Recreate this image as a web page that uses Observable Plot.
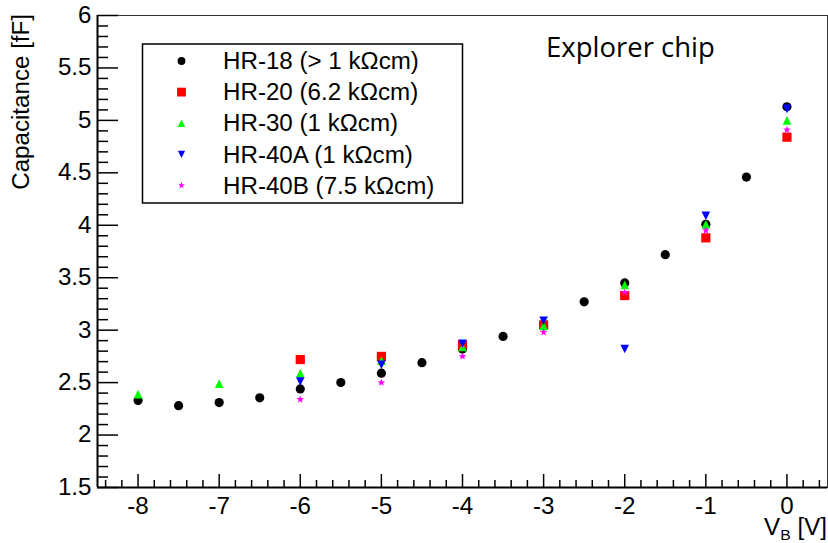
<!DOCTYPE html>
<html><head><meta charset="utf-8">
<script src="https://cdn.jsdelivr.net/npm/d3@7"></script>
<script src="https://cdn.jsdelivr.net/npm/@observablehq/plot@0.6"></script>
<style>
html,body{margin:0;padding:0;background:#fff;}
#chart{position:relative;width:828px;height:543px;overflow:hidden;}
</style></head><body><div id="chart"></div>
<script>
// ---- data ----
const hr18V = [-8,-7.5,-7,-6.5,-6,-5.5,-5,-4.5,-4,-3.5,-3,-2.5,-2,-1.5,-1,-0.5,0];
const hr18  = [2.33,2.28,2.31,2.355,2.44,2.50,2.59,2.69,2.82,2.94,3.04,3.27,3.45,3.72,4.01,4.46,5.13];
const hr20V = [-6,-5,-4,-3,-2,-1,0];
const hr20  = [2.72,2.75,2.86,3.05,3.33,3.88,4.84];
const hr30V = [-8,-7,-6,-5,-4,-3,-2,-1,0];
const hr30  = [2.39,2.49,2.59,2.71,2.84,3.04,3.43,4.01,5.00];
const hr40aV = [-6,-5,-4,-3,-2,-1,0];
const hr40a  = [2.51,2.67,2.87,3.09,2.82,4.09,5.11];
const hr40bV = [-6,-5,-4,-3,-2,-1,0];
const hr40b  = [2.34,2.50,2.75,2.98,3.36,3.95,4.91];

const seriesNames = ["HR-18 (> 1 kΩcm)","HR-20 (6.2 kΩcm)","HR-30 (1 kΩcm)","HR-40A (1 kΩcm)","HR-40B (7.5 kΩcm)"];
const seriesColors = ["#000000","#ff0000","#00ff00","#0000ff","#ff00ff"];
const xTicks = [-8,-7,-6,-5,-4,-3,-2,-1,0];
const yTicks = [1.5,2,2.5,3,3.5,4,4.5,5,5.5,6];
const xDomain = [-8.5, 0.5];
const yDomain = [1.5, 6];
const xTitle = ["V", "B", " [V]"];
const yTitle = "Capacitance [fF]";
const annotation = "Explorer chip";

// ---- layout ----
const W = 828, H = 543;
const mL = 97, mT = 15, mR = 1, mB = 56;
const plotW = W - mL - mR, plotH = H - mT - mB;
const FONT = "'Liberation Sans', Arial, Helvetica, sans-serif";
const FS = 23, STRETCH = 1.05;

// ---- ROOT-like marker symbols ----
const rOf = s => Math.sqrt(s / Math.PI);
const symSquare = {draw(c, s){const r=rOf(s); c.moveTo(-r,-r); c.lineTo(r,-r); c.lineTo(r,r); c.lineTo(-r,r); c.closePath();}};
const symUp = {draw(c, s){const r=rOf(s); c.moveTo(0,-r); c.lineTo(r,r); c.lineTo(-r,r); c.closePath();}};
const symDown = {draw(c, s){const r=rOf(s); c.moveTo(0,r); c.lineTo(r,-r); c.lineTo(-r,-r); c.closePath();}};
const symStar = {draw(c, s){const r=rOf(s), ri=r*0.42;
  for (let i=0;i<10;i++){const a=-Math.PI/2+i*Math.PI/5, rr=i%2?ri:r; const x=rr*Math.cos(a), y=rr*Math.sin(a); i?c.lineTo(x,y):c.moveTo(x,y);} c.closePath();}};

const series = [
  {xs: hr18V,  ys: hr18,  symbol: "circle",  r: 4.6, lr: 3.9},
  {xs: hr20V,  ys: hr20,  symbol: symSquare, r: 4.6, lr: 4.4},
  {xs: hr30V,  ys: hr30,  symbol: symUp,     r: 4.3, lr: 3.8},
  {xs: hr40aV, ys: hr40a, symbol: symDown,   r: 4.3, lr: 3.6},
  {xs: hr40bV, ys: hr40b, symbol: symStar,   r: 4.0, lr: 3.6}
].map((s, i) => ({...s, name: seriesNames[i], color: seriesColors[i],
  data: s.xs.map((x, j) => ({x, y: s.ys[j]}))}));

const minor = (lo, hi, step, majors) => d3.range(Math.round((hi-lo)/step)+1).map(i => +(lo + i*step).toFixed(2))
  .filter(v => !majors.some(m => Math.abs(m - v) < 1e-9));
const xMinor = minor(-8.4, 0.4, 0.2, xTicks);
const yMinor = minor(1.5, 6, 0.1, yTicks);

const plot = Plot.plot({
  width: W, height: H,
  marginLeft: mL, marginTop: mT, marginRight: mR, marginBottom: mB,
  x: {domain: xDomain},
  y: {domain: yDomain},
  style: {fontFamily: FONT, fontSize: FS + "px", background: "white", color: "black", overflow: "visible"},
  marks: [
    Plot.frame({stroke: "#333", strokeWidth: 1}),
    Plot.ruleX([xDomain[0]], {stroke: "#000", strokeWidth: 2}),
    Plot.ruleY([yDomain[0]], {stroke: "#000", strokeWidth: 2}),
    Plot.tickX(xMinor, {x: d => d, insetTop: plotH - 7, stroke: "#000", strokeWidth: 1.5}),
    Plot.tickX(xTicks, {x: d => d, insetTop: plotH - 13, stroke: "#000", strokeWidth: 1.5}),
    Plot.tickY(yMinor, {y: d => d, insetRight: plotW - 11, stroke: "#000", strokeWidth: 1.5}),
    Plot.tickY(yTicks, {y: d => d, insetRight: plotW - 21, stroke: "#000", strokeWidth: 1.5}),
    Plot.axisX(xTicks, {tickSize: 0, tickPadding: 10, fontSize: FS, label: null, tickFormat: d => String(d)}),
    Plot.axisY(yTicks, {tickSize: 0, tickPadding: 6, fontSize: FS, label: null, tickFormat: d => String(d)}),
    ...series.map(s => Plot.dot(s.data, {x: "x", y: "y", fill: s.color, stroke: "none", symbol: s.symbol, r: s.r}))
  ]
});
document.getElementById("chart").append(plot);

const svg = d3.select(plot);

// annotation
svg.append("text").attr("class", "nostretch").attr("text-anchor", "start")
  .attr("x", 546).attr("y", 57).attr("font-family", "'Open Sans', sans-serif")
  .attr("font-size", 27.5).attr("fill", "#000").text(annotation);

// legend
const lg = svg.append("g").attr("text-anchor", "start");
lg.append("rect").attr("x", 142.5).attr("y", 44).attr("width", 320).attr("height", 159)
  .attr("fill", "white").attr("stroke", "#000").attr("stroke-width", 1.5);
series.forEach((s, i) => {
  const cy = 61 + i * 31.1;
  const sym = typeof s.symbol === "string" ? d3.symbolCircle : s.symbol;
  lg.append("path").attr("transform", `translate(181.5,${cy})`)
    .attr("d", d3.symbol(sym, s.lr * s.lr * Math.PI)()).attr("fill", s.color);
  lg.append("text").attr("x", 223).attr("y", cy + 0.36 * FS).attr("font-size", FS)
    .attr("text-anchor", "start").attr("fill", "#000").text(s.name);
});

// axis titles
svg.append("text").attr("transform", "translate(29,14) rotate(-90)")
  .attr("text-anchor", "end").attr("font-size", FS).attr("fill", "#000").text(yTitle);
const xt = svg.append("text").attr("x", 827).attr("y", 535).attr("text-anchor", "end")
  .attr("font-size", FS).attr("fill", "#000");
xt.append("tspan").text(xTitle[0]);
xt.append("tspan").attr("dy", 5).attr("font-size", 15).text(xTitle[1]);
xt.append("tspan").attr("dy", -5).text(xTitle[2]);

// widen the Helvetica-like glyphs as in the reference
svg.selectAll("text").each(function() {
  if (this.classList.contains("nostretch")) return;
  const len = this.getComputedTextLength();
  if (len > 0) { this.setAttribute("textLength", (len * STRETCH).toFixed(1)); this.setAttribute("lengthAdjust", "spacingAndGlyphs"); }
});
</script>
</body></html>
